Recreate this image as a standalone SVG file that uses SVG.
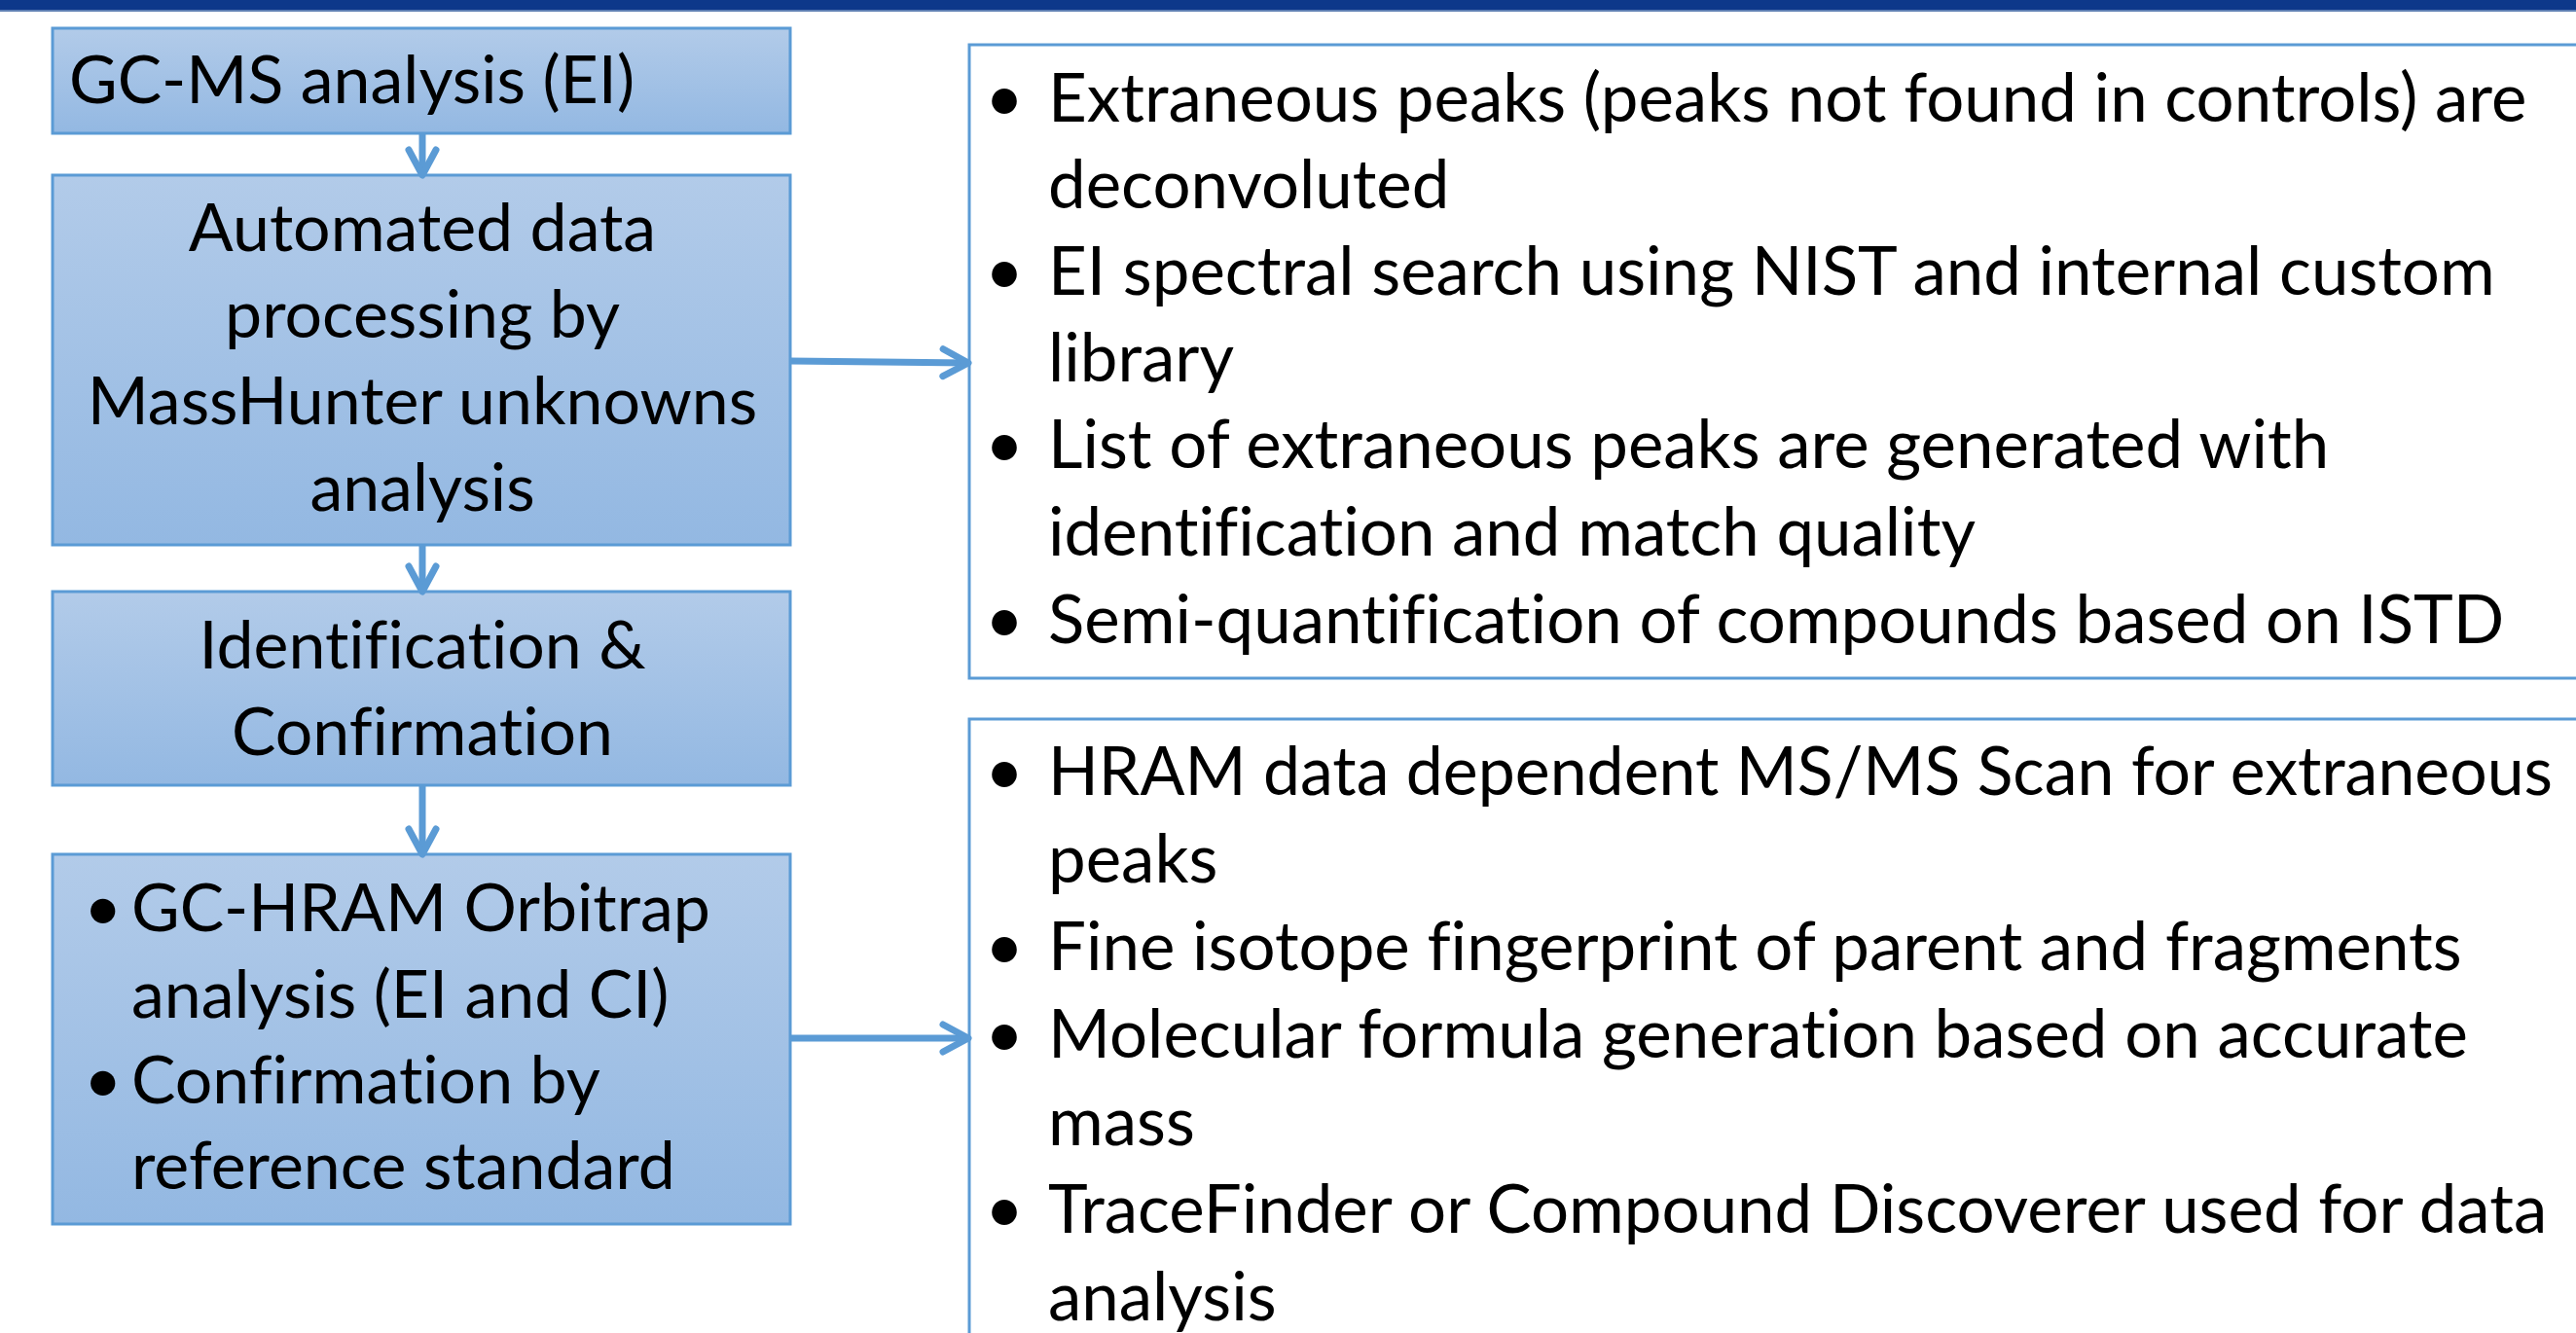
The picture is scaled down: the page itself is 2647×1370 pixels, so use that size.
<svg xmlns="http://www.w3.org/2000/svg" width="2647" height="1370" viewBox="0 0 2647 1370">
<defs>
<linearGradient id="g" x1="0" y1="0" x2="0" y2="1">
<stop offset="0" stop-color="#b2cbe9"/>
<stop offset="1" stop-color="#93b8e2"/>
</linearGradient>
<marker id="ah" markerUnits="userSpaceOnUse" markerWidth="40" markerHeight="40" refX="30" refY="20" orient="auto" viewBox="0 0 40 40">
<path d="M4,6 L30,20 L4,34" fill="none" stroke="#5b9bd5" stroke-width="7" stroke-linecap="round" stroke-linejoin="round"/>
</marker>
<style>
.box{fill:url(#g);stroke:#5b9bd5;stroke-width:3}
.wbox{fill:#fff;stroke:#5b9bd5;stroke-width:3}
.t{font-family:Lato,"Open Sans",sans-serif;font-size:68px;fill:#000;font-variant-ligatures:none;font-feature-settings:"liga" 0}
.r{font-size:69px}
.c{text-anchor:middle}
.conn{stroke:#5b9bd5;stroke-width:7;fill:none;marker-end:url(#ah)}
</style>
</defs>
<rect x="0" y="0" width="2647" height="1370" fill="#fff"/>
<rect x="0" y="0" width="2647" height="10" fill="#0d388a"/>
<rect x="0" y="10" width="2647" height="2" fill="#5e7fb3"/>

<g id="n1">
<rect class="box" x="54" y="29" width="758" height="108"/>
<text class="t" x="71" y="106">GC-MS analysis (EI)</text>
</g>
<g id="n2">
<rect class="box" x="54" y="180" width="758" height="380"/>
<text class="t c" x="434" y="258">Automated data</text>
<text class="t c" x="434" y="347">processing by</text>
<text class="t c" x="434" y="436">MassHunter unknowns</text>
<text class="t c" x="434" y="525">analysis</text>
</g>
<g id="n3">
<rect class="box" x="54" y="608" width="758" height="199"/>
<text class="t c" x="434" y="687">Identification &amp;</text>
<text class="t c" x="434" y="776">Confirmation</text>
</g>
<g id="n4">
<rect class="box" x="54" y="878" width="758" height="380"/>
<text class="t" x="86" y="957">•</text><text class="t" x="135" y="957">GC-HRAM Orbitrap</text>
<text class="t" x="135" y="1046">analysis (EI and CI)</text>
<text class="t" x="86" y="1134">•</text><text class="t" x="135" y="1134">Confirmation by</text>
<text class="t" x="135" y="1222">reference standard</text>
</g>
<g id="n5">
<rect class="wbox" x="996" y="46" width="1680" height="651"/>
<text class="t r" x="1012" y="125">•</text><text class="t r" x="1077" y="125">Extraneous peaks (peaks not found in controls) are</text>
<text class="t r" x="1077" y="214">deconvoluted</text>
<text class="t r" x="1012" y="303">•</text><text class="t r" x="1077" y="303">EI spectral search using NIST and internal custom</text>
<text class="t r" x="1077" y="392">library</text>
<text class="t r" x="1012" y="481">•</text><text class="t r" x="1077" y="481">List of extraneous peaks are generated with</text>
<text class="t r" x="1077" y="571">identification and match quality</text>
<text class="t r" x="1012" y="661">•</text><text class="t r" x="1077" y="661">Semi-quantification of compounds based on ISTD</text>
</g>
<g id="n6">
<rect class="wbox" x="996" y="739" width="1680" height="700"/>
<text class="t r" x="1012" y="817">•</text><text class="t r" x="1077" y="817" textLength="1546" lengthAdjust="spacingAndGlyphs">HRAM data dependent MS/MS Scan for extraneous</text>
<text class="t r" x="1077" y="907">peaks</text>
<text class="t r" x="1012" y="997">•</text><text class="t r" x="1077" y="997">Fine isotope fingerprint of parent and fragments</text>
<text class="t r" x="1012" y="1087">•</text><text class="t r" x="1077" y="1087">Molecular formula generation based on accurate</text>
<text class="t r" x="1077" y="1177">mass</text>
<text class="t r" x="1012" y="1267">•</text><text class="t r" x="1077" y="1267">TraceFinder or Compound Discoverer used for data</text>
<text class="t r" x="1077" y="1357">analysis</text>
</g>

<g id="connectors">
<line class="conn" x1="434" y1="137" x2="434" y2="180"/>
<line class="conn" x1="434" y1="560" x2="434" y2="608"/>
<line class="conn" x1="434" y1="807" x2="434" y2="878"/>
<line class="conn" x1="812" y1="371" x2="995" y2="373"/>
<line class="conn" x1="812" y1="1067" x2="995" y2="1067"/>
</g>
</svg>
